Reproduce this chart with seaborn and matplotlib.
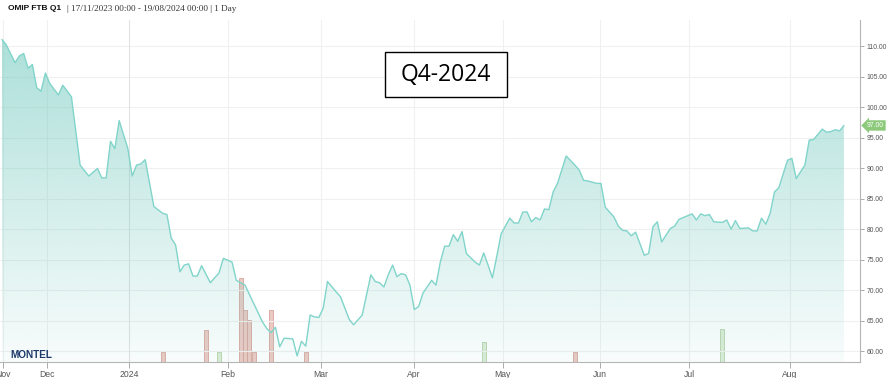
import numpy as np
import pandas as pd
import matplotlib
matplotlib.use("Agg")
import matplotlib.pyplot as plt
import seaborn as sns
from matplotlib.patches import Rectangle
from matplotlib.colors import to_rgb
import matplotlib.transforms as mtransforms

# ---------------- data ----------------
trade_day = [0, 1, 3, 4, 5, 6, 7, 8, 9, 10, 11, 13, 14, 16, 18, 20, 22, 23, 24, 25,
             26, 27, 29, 30, 31, 32, 33, 35, 37, 38, 39, 40, 41, 42, 43, 44, 45, 46, 48, 50,
             51, 53, 54, 56, 58, 60, 61, 62, 63, 64, 65, 67, 68, 69, 70, 71, 72, 73, 74, 75,
             77, 78, 80, 81, 83, 85, 86, 87, 88, 89, 90, 91, 92, 93, 94, 95, 96, 97, 99, 100,
             101, 102, 103, 104, 105, 106, 107, 109, 110, 111, 112, 113, 114, 115, 117, 118, 119, 120, 121, 122,
             123, 124, 125, 126, 127, 128, 130, 132, 133, 134, 135, 137, 138, 139, 141, 142, 143, 144, 145, 146,
             148, 149, 150, 151, 152, 154, 155, 156, 158, 159, 160, 161, 162, 163, 164, 166, 167, 168, 169, 170,
             172, 173, 174, 175, 176, 177, 178, 179, 181, 182, 183, 185, 186, 187, 189, 190, 191, 192, 193, 194]
price = [111.1, 110.2, 107.3, 108.4, 108.8, 106.4, 107.0, 103.2, 102.6, 105.6, 103.9, 102.0, 103.6, 101.7, 90.5, 88.7, 89.95, 88.4, 88.4, 94.4,
         93.2, 97.8, 93.2, 88.7, 90.5, 90.7, 91.4, 83.7, 82.6, 82.4, 78.5, 77.4, 73.0, 74.1, 74.3, 72.3, 72.3, 74.0, 71.2, 72.8,
         75.2, 74.6, 71.6, 70.8, 67.8, 64.8, 63.7, 63.0, 63.9, 60.7, 62.1, 62.0, 59.2, 61.6, 60.8, 65.9, 65.6, 65.5, 67.0, 71.4,
         69.7, 68.9, 65.2, 64.3, 65.9, 72.5, 71.4, 71.2, 70.5, 72.5, 74.1, 72.2, 72.7, 72.5, 70.8, 66.8, 67.3, 69.5, 71.6, 70.8,
         74.6, 77.2, 77.2, 79.1, 78.0, 79.6, 76.0, 74.6, 74.1, 76.1, 74.1, 72.0, 75.5, 79.2, 81.8, 81.0, 81.0, 82.8, 82.8, 81.2,
         81.9, 81.5, 83.3, 83.2, 86.1, 87.5, 92.0, 90.5, 89.7, 88.0, 87.9, 87.5, 87.5, 83.6, 82.0, 80.5, 79.8, 79.7, 78.9, 79.5,
         75.7, 76.0, 80.4, 81.2, 77.9, 80.1, 80.5, 81.6, 82.2, 82.5, 81.5, 82.5, 82.2, 82.4, 81.2, 81.1, 81.5, 80.0, 81.4, 80.1,
         80.2, 79.7, 79.7, 81.8, 80.8, 82.6, 86.1, 86.8, 91.3, 91.6, 88.3, 90.5, 94.6, 94.7, 96.4, 95.9, 96.0, 96.3, 96.1, 97.0]

vol_day = [37, 47, 50, 55, 56, 57, 58, 62, 70, 111, 132, 166]
volume = [1.0, 3.2, 1.0, 8.4, 5.2, 4.2, 1.0, 5.2, 1.0, 2.0, 1.0, 3.3]
vol_dir = ["down", "down", "up", "down", "down", "down", "down", "down", "down", "up", "down", "up"]

month_labels = ["Nov", "Dec", "2024", "Feb", "Mar", "Apr", "May", "Jun", "Jul", "Aug"]
month_pos = [0.2, 10.4, 29.3, 52.1, 73.5, 94.9, 115.4, 137.8, 158.3, 181.6]
y_ticks = [60, 65, 70, 75, 80, 85, 90, 95, 100, 105, 110]
last_price = 97.00

title_bold = "OMIP FTB Q1"
title_rest = "| 17/11/2023 00:00 - 19/08/2024 00:00 | 1 Day"
box_label = "Q4-2024"

df = pd.DataFrame({"day": trade_day, "price": price})
vdf = pd.DataFrame({"day": vol_day, "volume": volume, "dir": vol_dir})

# ---------------- figure ----------------
sns.set_theme(style="white")
plt.rcParams["font.family"] = ["Liberation Sans", "DejaVu Sans"]

W, H = 888, 378
fig = plt.figure(figsize=(W / 100, H / 100), dpi=100)
fig.patch.set_facecolor("white")

ax_rect = [0.0, (H - 362) / H, 860 / W, (362 - 20) / H]
ax2 = fig.add_axes(ax_rect)      # volume layer (behind)
ax = fig.add_axes(ax_rect)       # price layer
ax.patch.set_visible(False)

xmin, xmax = -0.46, 197.7
ymin, ymax = 58.2, 114.3

# volume bars
col_map = {"down": ("#eccac4", "#d7a39b"), "up": ("#ddecd7", "#b3d2a8")}
for d in ["down", "up"]:
    sub = vdf[vdf["dir"] == d]
    ax2.bar(sub["day"], sub["volume"], width=0.92, color=col_map[d][0],
            edgecolor=col_map[d][1], linewidth=0.6)
ax2.set_xlim(xmin, xmax)
ax2.set_ylim(0, 34.2)
ax2.axis("off")
ax2.patch.set_visible(True)
ax2.patch.set_facecolor("white")

# gradient fill under the line
fill = ax.fill_between(df["day"], df["price"], ymin, facecolor="none", edgecolor="none")
base = np.array(to_rgb("#6ec8bd"))
ny = 256
alpha = np.linspace(0.05, 0.58, ny)[:, None]
grad = np.zeros((ny, 2, 4))
grad[..., :3] = base
grad[..., 3] = alpha
im = ax.imshow(grad, extent=[xmin, xmax, ymin, 112.5], origin="lower",
               aspect="auto", zorder=1, interpolation="bicubic")
im.set_clip_path(fill.get_paths()[0], transform=ax.transData)

sns.lineplot(data=df, x="day", y="price", ax=ax, color="#80d4ca", linewidth=1.0,
             zorder=3, legend=False)

ax.set_xlim(xmin, xmax)
ax.set_ylim(ymin, ymax)
ax.set_xlabel("")
ax.set_ylabel("")

# grid
for y in y_ticks:
    ax.axhline(y, color="#f0f0f0", lw=0.8, zorder=0.5)
for lab, p in zip(month_labels, month_pos):
    ax.axvline(p, color="#e2e2e2" if lab == "2024" else "#f0f0f0", lw=0.8, zorder=0.5)

ax.set_xticks(month_pos)
ax.set_xticklabels(month_labels)
ax.yaxis.tick_right()
ax.set_yticks(y_ticks)
ax.set_yticklabels([f"{v:.2f}" for v in y_ticks])
ax.tick_params(axis="x", bottom=True, length=4, width=0.7, color="#aaaaaa",
               labelsize=6.2, labelcolor="#555555", pad=1.5)
ax.tick_params(axis="y", right=True, left=False, length=3, width=0.7, color="#aaaaaa",
               labelsize=4.9, labelcolor="#555555", pad=1.5)
for s in ["top", "left"]:
    ax.spines[s].set_visible(False)
for s in ["bottom", "right"]:
    ax.spines[s].set_color("#b5b5b5")
    ax.spines[s].set_linewidth(0.8)

# last price tag
trans = mtransforms.blended_transform_factory(ax.transAxes, ax.transData)
ax.annotate(f"{last_price:.2f}", xy=(1.0, last_price), xycoords=trans,
            xytext=(5, 0), textcoords="offset points", ha="left", va="center",
            fontsize=4.9, color="white",
            bbox=dict(boxstyle="larrow,pad=0.25", fc="#8cc97a", ec="none"),
            annotation_clip=False)

# title
fig.text(8 / W, 1 - 9 / H, title_bold, fontsize=6.0, fontweight="bold",
         color="#111111", va="center", ha="left", family=["Liberation Sans", "DejaVu Sans"])
fig.text(67 / W, 1 - 9 / H, title_rest, fontsize=6.6, color="#333333",
         va="center", ha="left", family=["Liberation Serif", "DejaVu Serif"])

# boxed label
fig.patches.append(Rectangle((385 / W, (H - 97) / H), 122 / W, 45 / H,
                             transform=fig.transFigure, facecolor="white",
                             edgecolor="black", linewidth=1.0, zorder=10))
fig.text(446 / W, 1 - 75 / H, box_label, fontsize=16.5, color="black",
         ha="center", va="center", zorder=11, family=["Open Sans", "DejaVu Sans"])

# logo text
fig.text(10 / W, 1 - 355 / H, "MONTEL", fontsize=7.2, fontweight="bold",
         color="#1d3a6a", ha="left", va="center", zorder=11,
         family=["Liberation Sans", "DejaVu Sans"])

fig.savefig("out.png", dpi=100, facecolor="white")
